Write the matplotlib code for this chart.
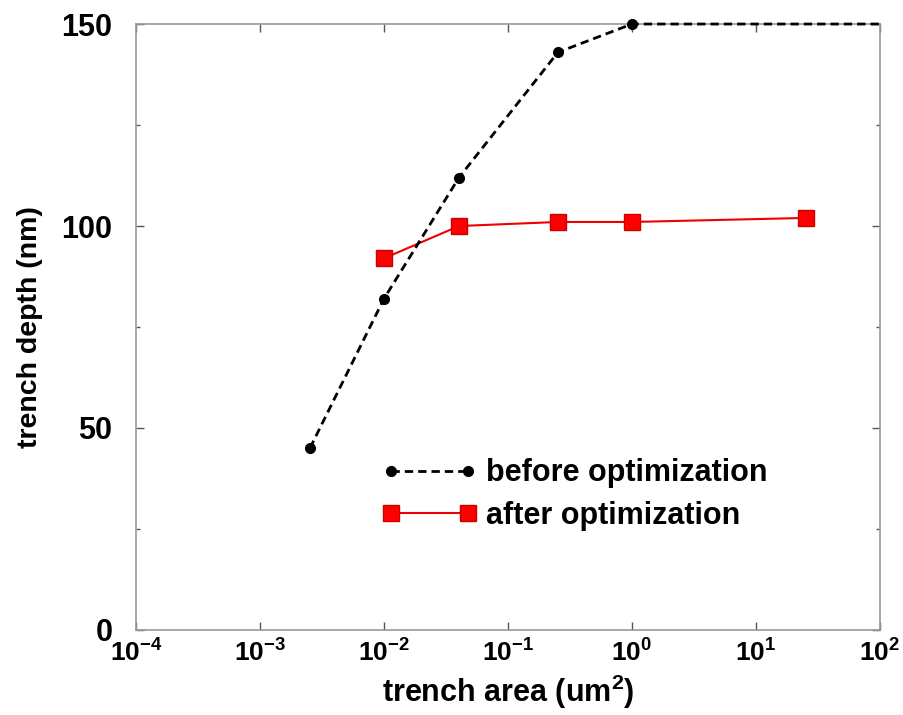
import matplotlib
matplotlib.use('Agg')
import matplotlib.pyplot as plt
from matplotlib.ticker import LogLocator, MultipleLocator, NullLocator

plt.rcParams['font.family'] = ['Liberation Sans', 'DejaVu Sans']
plt.rcParams['font.weight'] = 'bold'
plt.rcParams['axes.labelweight'] = 'bold'

# before optimization (black dashed, dots)
area_before = [0.00253, 0.01, 0.0403, 0.253, 1.0, 100.0]
depth_before = [45, 82, 112, 143, 150, 150]

# after optimization (red, squares)
area_after = [0.01, 0.0403, 0.253, 1.0, 25.3]
depth_after = [92, 100, 101, 101, 102]

fig = plt.figure(figsize=(9.04, 7.15), dpi=100)
ax = fig.add_axes([0.1504, 0.1189, 0.823, 0.8475])

ax.plot(area_after, depth_after, color='#ee0000', ls='-', lw=1.5,
        marker='s', ms=11, mfc='#ff0000', mec='#cc0000', zorder=3,
        label='after optimization')
ax.plot(area_before, depth_before, color='black', ls=(0, (3.0, 1.8)), lw=2.0,
        marker='o', ms=7, markevery=[0, 1, 2, 3, 4], clip_on=False, zorder=4,
        label='before optimization')

ax.set_xscale('log')
ax.set_xlim(1e-4, 1e2)
ax.set_ylim(0, 150)
ax.xaxis.set_major_locator(LogLocator(base=10, numticks=10))
ax.xaxis.set_minor_locator(NullLocator())
ax.yaxis.set_major_locator(MultipleLocator(50))
ax.yaxis.set_minor_locator(MultipleLocator(25))

ax.tick_params(which='both', direction='in', top=True, right=True,
               color='#555555')
ax.tick_params(which='major', length=6, width=1)
ax.tick_params(which='minor', length=3, width=1)
ax.tick_params(axis='x', labelsize=19, pad=7)
ax.tick_params(axis='y', labelsize=22, pad=17)
for s in ax.spines.values():
    s.set_color('#999999')
    s.set_linewidth(1.2)

ax.set_xlabel('trench area (um$^\\mathdefault{2}$)', fontsize=22, labelpad=4)
ax.set_ylabel('trench depth (nm)', fontsize=20.5, labelpad=13)

h, l = ax.get_legend_handles_labels()
ax.legend(h[::-1], l[::-1], loc='center left', bbox_to_anchor=(0.331, 0.2235),
          frameon=False, numpoints=2, handlelength=3.1, handletextpad=0.3,
          fontsize=22, labelspacing=0.4, borderpad=0, borderaxespad=0)

fig.savefig('out.png', dpi=100)
